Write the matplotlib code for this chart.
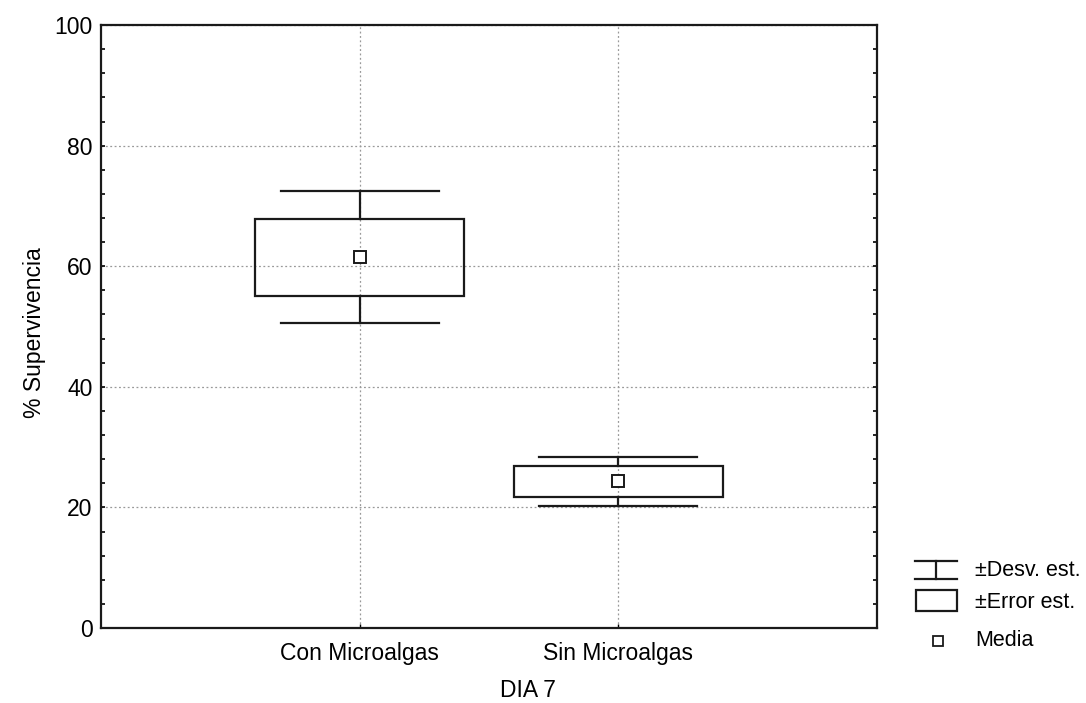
import matplotlib.pyplot as plt
from matplotlib.patches import Rectangle
from matplotlib.ticker import MultipleLocator

plt.rcParams['font.family'] = ['Liberation Sans', 'DejaVu Sans']
plt.rcParams['font.size'] = 16.5

# survival on day 7, mean with standard error and standard deviation
grupos = ['Con Microalgas', 'Sin Microalgas']
media = [61.5, 24.3]
error_est = [6.4, 2.5]
desv_est = [10.9, 4.1]

box_w = 0.81
cap_w = 0.61
lw = 1.6
ink = '#1a1a1a'

fig = plt.figure(figsize=(10.86, 7.03), dpi=100)
ax = fig.add_axes([0.093, 0.1067, 0.7145, 0.8577])

for i, (m, se, sd) in enumerate(zip(media, error_est, desv_est)):
    x = i + 1
    ax.add_patch(Rectangle((x - box_w / 2, m - se), box_w, 2 * se,
                           fill=False, edgecolor=ink, lw=lw, zorder=3))
    ax.plot([x, x], [m + se, m + sd], color=ink, lw=lw, zorder=3)
    ax.plot([x, x], [m - se, m - sd], color=ink, lw=lw, zorder=3)
    ax.plot([x - cap_w / 2, x + cap_w / 2], [m + sd, m + sd], color=ink, lw=lw, zorder=3)
    ax.plot([x - cap_w / 2, x + cap_w / 2], [m - sd, m - sd], color=ink, lw=lw, zorder=3)
    ax.plot(x, m, marker='s', ms=8.5, mfc='white', mec=ink, mew=1.4, zorder=4)

ax.set_xlim(0, 3)
ax.set_ylim(0, 100)
ax.set_xticks([1, 2])
ax.set_xticklabels(grupos)
ax.yaxis.set_major_locator(MultipleLocator(20))
ax.yaxis.set_minor_locator(MultipleLocator(4))
ax.tick_params(axis='y', which='both', direction='in', right=True, length=3, width=1.2, pad=6)
ax.tick_params(axis='x', direction='in', length=3, width=1, pad=10)
ax.grid(True, which='major', linestyle=(0, (1.5, 2)), color='#999999', lw=0.9)
for sp in ax.spines.values():
    sp.set_linewidth(1.6)
    sp.set_color(ink)
ax.set_ylabel('% Supervivencia')
ax.yaxis.set_label_coords(-0.071, 0.49)
ax.set_xlabel('DIA 7', va='center')
ax.xaxis.set_label_coords(0.55, -0.103)

# legend drawn in its own pixel-scaled axes
lg = fig.add_axes([900 / 1086, 43 / 703, 186 / 1086, 120 / 703])
lg.set_xlim(900, 1086)
lg.set_ylim(660, 540)
lg.axis('off')
lg.plot([915, 957], [561, 561], color=ink, lw=lw)
lg.plot([915, 957], [579, 579], color=ink, lw=lw)
lg.plot([936, 936], [561, 579], color=ink, lw=lw)
lg.add_patch(Rectangle((916, 590), 41, 21, fill=False, edgecolor=ink, lw=lw))
lg.plot(938, 641, marker='s', ms=7.5, mfc='white', mec=ink, mew=1.3)
lg.text(975, 570, '±Desv. est.', va='center', fontsize=15.5)
lg.text(975, 602, '±Error est.', va='center', fontsize=15.5)
lg.text(975, 641, 'Media', va='center', fontsize=15.5)

fig.savefig('out.png', dpi=100, facecolor='white')
